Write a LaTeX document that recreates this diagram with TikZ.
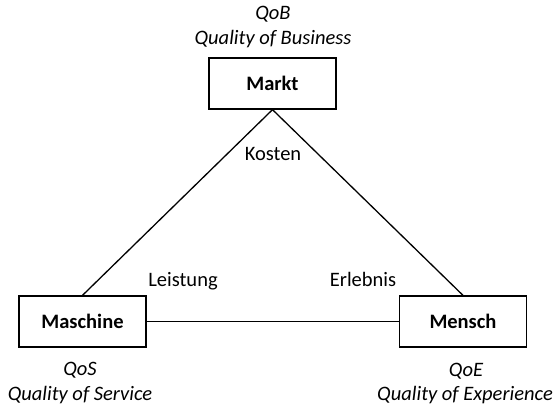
\documentclass[tikz,border=0pt]{standalone}
\usepackage{fontspec}
\setmainfont{Carlito}
\begin{document}
\begin{tikzpicture}[x=1pt,y=-1pt,
  box/.style={draw,line width=1.3pt,minimum width=127pt,minimum height=51pt,inner sep=0pt,font=\fontsize{20.5}{24}\selectfont\bfseries},
  lbl/.style={anchor=base,inner sep=0pt,font=\fontsize{20.5}{24}\selectfont\itshape},
  edgelbl/.style={anchor=base,inner sep=0pt,font=\fontsize{20.5}{24}\selectfont},
  conn/.style={line width=1.3pt}]
\useasboundingbox (0,0) rectangle (557,406);
\node[box] (markt) at (272.5,83.5) {Markt};
\node[box] (maschine) at (82.5,321.5) {Maschine};
\node[box] (mensch) at (463,321.5) {Mensch};
\node[lbl] (qob) at (273,20) {QoB};
\node[lbl] (qobl) at (273,45) {Quality of Business};
\node[lbl] (qos) at (80,375) {QoS};
\node[lbl] (qosl) at (80,400) {Quality of Service};
\node[lbl] (qoe) at (466,376) {QoE};
\node[lbl] (qoel) at (465,400) {Quality of Experience};
\node[edgelbl] (kosten) at (273,161) {Kosten};
\node[edgelbl] (leistung) at (183,287) {Leistung};
\node[edgelbl] (erlebnis) at (363,287) {Erlebnis};
\draw[conn] (markt.south) -- (maschine.north);
\draw[conn] (markt.south) -- (mensch.north);
\draw[conn] (maschine.east) -- (mensch.west);
\end{tikzpicture}
\end{document}
